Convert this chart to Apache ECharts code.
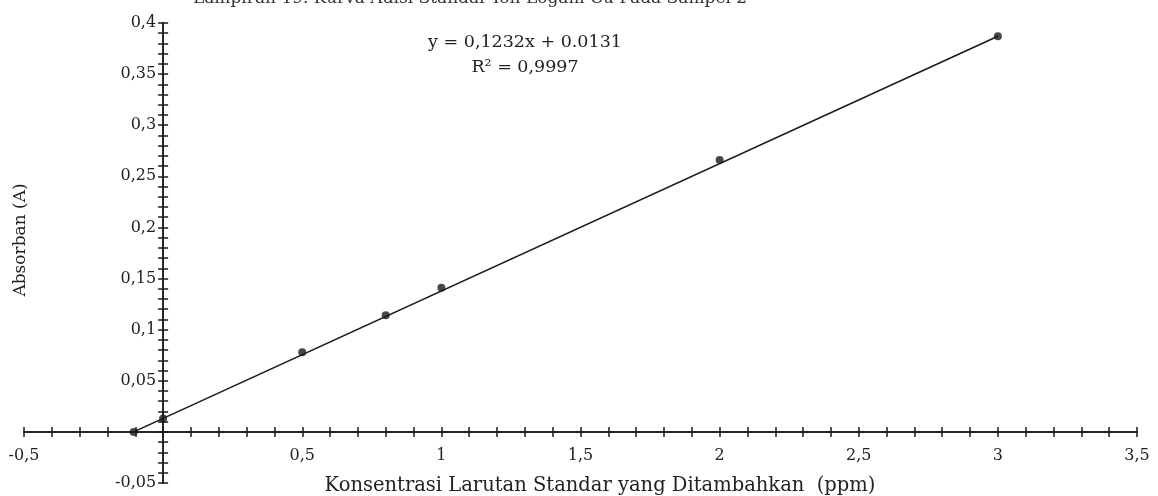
<!DOCTYPE html>
<html>
<head>
<meta charset="utf-8">
<script src="https://cdn.jsdelivr.net/npm/echarts@6/dist/echarts.min.js"></script>
<style>
html,body{margin:0;padding:0;background:#fff;}
#c{width:1158px;height:496px;}
</style>
</head>
<body>
<div id="c"></div>
<script>
// Data
var concentrations = [0, 0.5, 0.8, 1, 2, 3];
var absorbances = [0.013, 0.078, 0.114, 0.141, 0.266, 0.387];
var interceptPoint = [-0.106, 0];
var trendX = [-0.106, 3];
var trendY = [0, 0.387];
var equationText = 'y = 0,1232x + 0.0131';
var r2Text = 'R² = 0,9997';
var titleText = 'Lampiran 19. Kurva Adisi Standar Ion Logam Cu Pada Sampel 2';
var xName = 'Konsentrasi Larutan Standar yang Ditambahkan  (ppm)';
var yName = 'Absorban (A)';

var font = '"DejaVu Serif", "Liberation Serif", serif';
var pts = concentrations.map(function (x, i) { return [x, absorbances[i]]; });
var trend = trendX.map(function (x, i) { return [x, trendY[i]]; });

var X_MIN = -0.5, X_MAX = 3.5, Y_MIN = -0.05, Y_MAX = 0.4;
var G = { left: 24, right: 21, top: 23, bottom: 13 };
var W = 1158, H = 496;
var gw = W - G.left - G.right, gh = H - G.top - G.bottom;
// distance from grid edges to the zero lines (labelled axes sit on the zero lines)
var yAxisShift = gw * (0 - X_MIN) / (X_MAX - X_MIN);
var xAxisShift = gh * (0 - Y_MIN) / (Y_MAX - Y_MIN);

function fmt(v) {
  if (Math.abs(v) < 1e-9) return '';
  var s = String(Math.round(v * 1000) / 1000);
  return s.replace('.', ',');
}

var ink = '#1a1a1a';
var lineStyle = { color: ink, width: 1.5 };
var tick = { show: true, length: 5, lineStyle: lineStyle };
var minor = { show: true, splitNumber: 5, length: 5, lineStyle: lineStyle };

var chart = echarts.init(document.getElementById('c'));
chart.setOption({
  backgroundColor: '#fff',
  animation: false,
  grid: { left: G.left, right: G.right, top: G.top, bottom: G.bottom, containLabel: false, outerBoundsMode: 'none' },
  xAxis: [{
    type: 'value', min: X_MIN, max: X_MAX, interval: 0.5, position: 'bottom',
    offset: -xAxisShift,
    axisLine: { onZero: false, lineStyle: lineStyle },
    axisTick: tick, minorTick: minor,
    splitLine: { show: false },
    axisLabel: { formatter: fmt, margin: 16, color: '#222', fontFamily: font, fontSize: 16 },
    name: xName, nameLocation: 'middle', nameGap: 44,
    nameTextStyle: { fontFamily: font, fontSize: 19.5, color: '#222', padding: [0, 0, 0, 39] }
  }, {
    type: 'value', min: X_MIN, max: X_MAX, interval: 0.5, position: 'top',
    axisLine: { onZero: true, lineStyle: lineStyle },
    axisTick: tick, minorTick: minor,
    splitLine: { show: false },
    axisLabel: { show: false }
  }],
  yAxis: [{
    type: 'value', min: Y_MIN, max: Y_MAX, interval: 0.05, position: 'left',
    offset: -yAxisShift,
    axisLine: { onZero: false, lineStyle: lineStyle },
    axisTick: tick, minorTick: minor,
    splitLine: { show: false },
    axisLabel: { formatter: fmt, margin: 7, color: '#222', fontFamily: font, fontSize: 16 },
    name: yName, nameLocation: 'middle', nameGap: 134, nameRotate: 90,
    nameTextStyle: { fontFamily: font, fontSize: 17, color: '#222', padding: [0, 0, 0, 26] }
  }, {
    type: 'value', min: Y_MIN, max: Y_MAX, interval: 0.05, position: 'right',
    axisLine: { onZero: true, lineStyle: lineStyle },
    axisTick: tick, minorTick: minor,
    splitLine: { show: false },
    axisLabel: { show: false }
  }],
  graphic: [
    { type: 'text', x: 470, y: -10, style: { text: titleText, font: '17px ' + font, fill: '#333', align: 'center', verticalAlign: 'top' } },
    { type: 'text', x: 525, y: 42, style: { text: equationText, font: '17.5px ' + font, fill: '#222', align: 'center', verticalAlign: 'middle' } },
    { type: 'text', x: 525, y: 67, style: { text: r2Text, font: '17.5px ' + font, fill: '#222', align: 'center', verticalAlign: 'middle' } }
  ],
  series: [{
    type: 'line', data: trend, symbol: 'none', silent: true,
    lineStyle: { color: ink, width: 1.6 }, z: 2
  }, {
    type: 'scatter', data: pts, symbol: 'circle', symbolSize: 8,
    itemStyle: { color: ink }, z: 3
  }, {
    type: 'scatter', data: [interceptPoint], symbol: 'circle', symbolSize: 8,
    itemStyle: { color: ink }, z: 3
  }]
});
</script>
</body>
</html>
